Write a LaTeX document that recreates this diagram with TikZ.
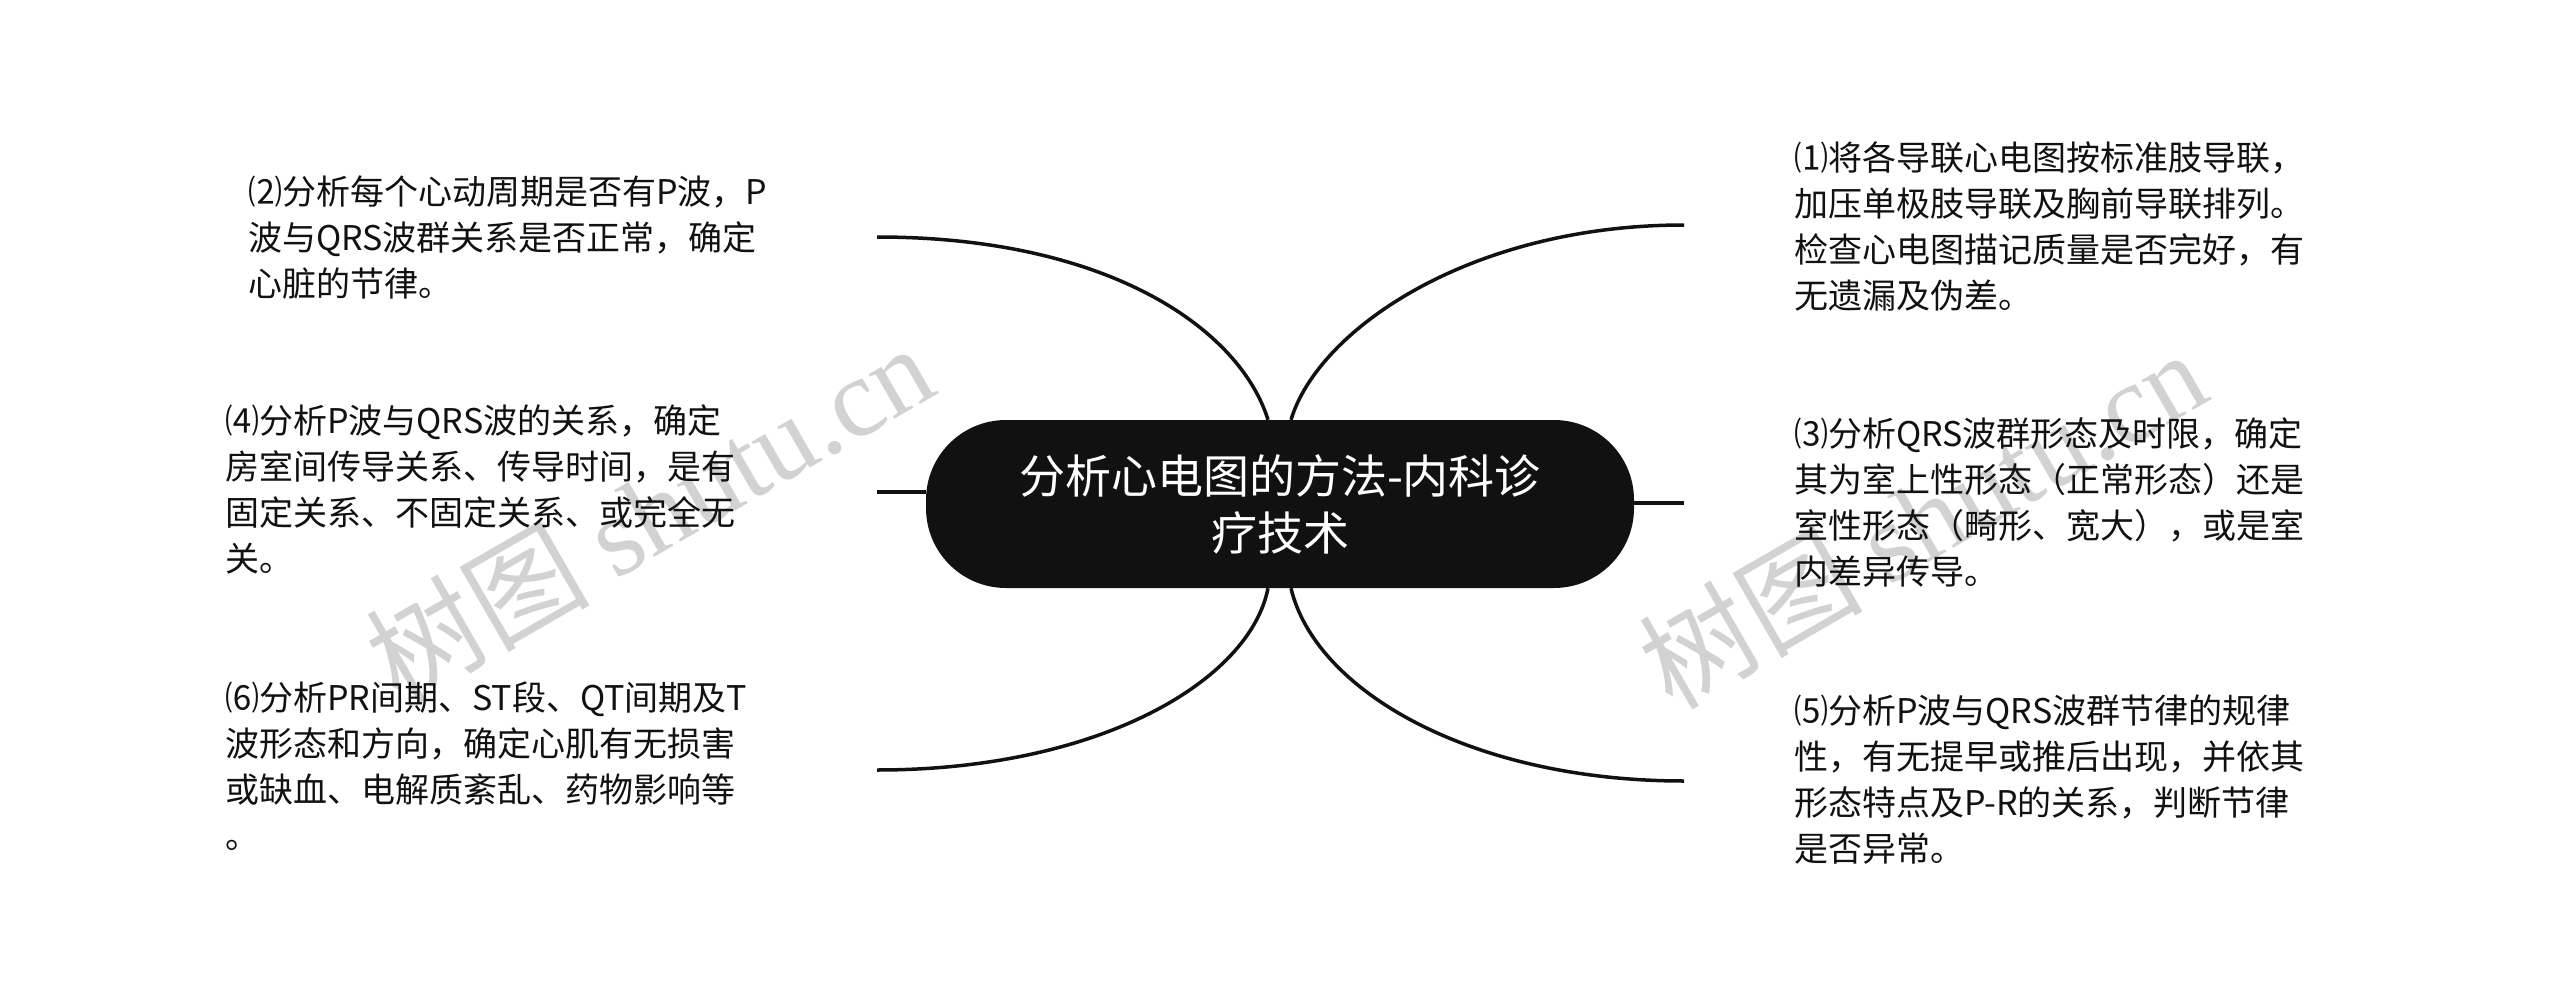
\documentclass[tikz,border=0pt]{standalone}
\usepackage{fontspec}
\setmainfont{Noto Sans CJK SC}
\newfontfamily\wmlatin{Liberation Serif}
\newfontfamily\wmcjk{Noto Sans CJK SC}
\definecolor{ink}{HTML}{111111}
\definecolor{wmgray}{HTML}{D2D2D2}
\begin{document}
\begin{tikzpicture}[x=1pt,y=-1pt,
  topic/.style={rectangle, rounded corners=80pt, fill=ink, text=white,
    minimum width=708pt, minimum height=168pt, inner sep=0pt, align=center,
    font=\fontsize{46}{57}\selectfont},
  leaf/.style={anchor=north west, inner sep=0pt, align=left, text=ink,
    font=\fontsize{34}{46}\selectfont},
  branch/.style={draw=ink, line width=3.5pt},
  wm/.style={text=wmgray, rotate=30, inner sep=0pt, font=\fontsize{112}{112}\selectfont}]
\useasboundingbox (0,0) rectangle (2560,1006);
\fill[white] (0,0) rectangle (2560,1006);

% watermarks
\node[wm] (wm1) at (649,512) {{\wmcjk 树图} {\wmlatin shutu.cn}};
\node[wm] (wm2) at (1922,518) {{\wmcjk 树图} {\wmlatin shutu.cn}};

% central topic
\node[topic] (c) at (1280,504) {分析心电图的方法-内科诊\\疗技术};

% leaves
\node[leaf] (t2) at (248,176) {⑵分析每个心动周期是否有P波，P\\波与QRS波群关系是否正常，确定\\心脏的节律。};
\node[leaf] (t4) at (225,404) {⑷分析P波与QRS波的关系，确定\\房室间传导关系、传导时间，是有\\固定关系、不固定关系、或完全无\\关。};
\node[leaf] (t6) at (225,682) {⑹分析PR间期、ST段、QT间期及T\\波形态和方向，确定心肌有无损害\\或缺血、电解质紊乱、药物影响等\\。};
\node[leaf] (t1) at (1794,141) {⑴将各导联心电图按标准肢导联，\\加压单极肢导联及胸前导联排列。\\检查心电图描记质量是否完好，有\\无遗漏及伪差。};
\node[leaf] (t3) at (1794,417) {⑶分析QRS波群形态及时限，确定\\其为室上性形态（正常形态）还是\\室性形态（畸形、宽大），或是室\\内差异传导。};
\node[leaf] (t5) at (1794,695) {⑸分析P波与QRS波群节律的规律\\性，有无提早或推后出现，并依其\\形态特点及P-R的关系，判断节律\\是否异常。};

% connector ends
\coordinate (e2) at (877,237);
\coordinate (e4) at (877,492);
\coordinate (e6) at (877,770);
\coordinate (e1) at (1684,225);
\coordinate (e3) at (1684,503);
\coordinate (e5) at (1684,781);

% connectors
\draw[branch] ([xshift=-12pt]c.north) .. controls +(-28,-90) and +(233,0) .. (e2);
\draw[branch] ([xshift=11pt]c.north) .. controls +(27,-90) and +(-214,0) .. (e1);
\draw[branch] ([xshift=-12pt]c.south) .. controls +(-18,92) and +(223,0) .. (e6);
\draw[branch] ([xshift=11pt]c.south) .. controls +(24,102) and +(-214,0) .. (e5);
\draw[branch] ([yshift=12pt]c.west) -- (e4);
\draw[branch] ([yshift=1pt]c.east) -- (e3);
\end{tikzpicture}
\end{document}
